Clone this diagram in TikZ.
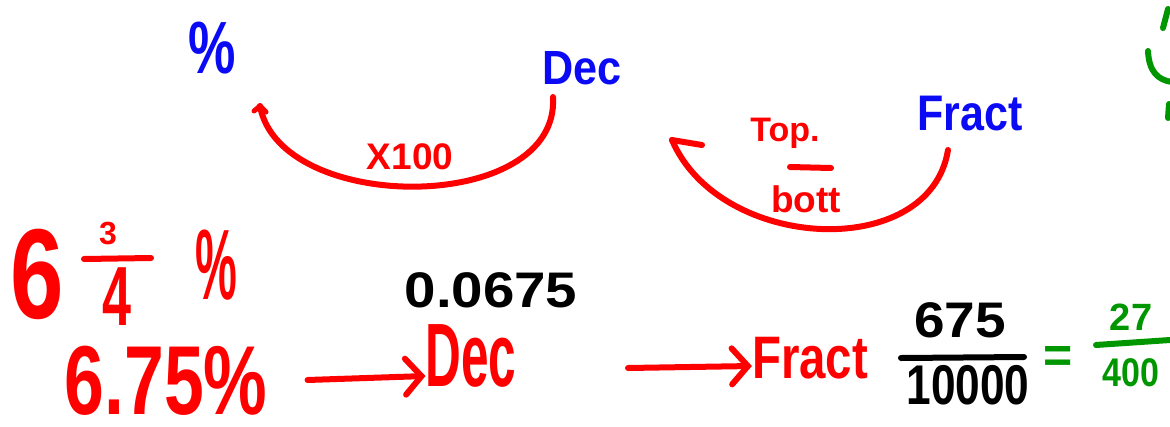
\documentclass[tikz,border=0pt]{standalone}
\usepackage{fontspec}
\setmainfont{Liberation Sans}
\usetikzlibrary{arrows.meta}
\definecolor{inkred}{RGB}{255,0,0}
\definecolor{inkblue}{RGB}{10,10,245}
\definecolor{inkgreen}{RGB}{0,150,0}
\newcommand\fsz[1]{\fontsize{#1}{#1}\selectfont\bfseries}
\tikzset{
  txt/.style={inner sep=0pt, anchor=center},
  stroke/.style={line width=6pt, line cap=round, line join=round},
  redarc/.style={stroke, draw=inkred},
  barbtip/.style={-{Straight Barb[length=16pt,width=36pt,line cap=round]}},
}
\begin{document}
\begin{tikzpicture}[x=1pt,y=-1pt]
\useasboundingbox (0,0) rectangle (1170,426);
% top row: blue labels
\node[txt,text=inkblue,xscale=0.72] (pct) at (212,48) {\fsz{74}\%};
\node[txt,text=inkblue,xscale=0.9] (decB) at (582,68) {\fsz{48}Dec};
\node[txt,text=inkblue,xscale=0.86] (fractB) at (970,114) {\fsz{50}Fract};
% arc 1 (Dec -> %)
\coordinate (a1s) at (553,97);
\coordinate (a1e) at (260,106);
\draw[redarc] (a1s) .. controls (560,215) and (280,215) .. (a1e);
\draw[redarc,line width=5pt] (a1e) -- (254,111);
\draw[redarc,line width=5pt] (a1e) -- (266,112);
\node[txt,text=inkred] (x100) at (410,157) {\fsz{37}X100};
% arc 2 (Fract -> Dec)
\coordinate (a2s) at (948,150);
\coordinate (a2e) at (672,140);
\draw[redarc] (a2s) .. controls (930,262) and (720,252) .. (a2e);
\draw[redarc] (a2e) -- (702,145);
\node[txt,text=inkred] (top) at (785,133) {\fsz{34}Top.};
\draw[stroke,draw=inkred] (790,167) -- (831,168);
\node[txt,text=inkred] (bott) at (806,199) {\fsz{37}bott};
% mixed number
\node[txt,text=inkred,xscale=0.75] (six) at (37,274) {\fsz{128}6};
\node[txt,text=inkred] (three) at (108,234) {\fsz{32}3};
\draw[stroke,draw=inkred] (84,259) -- (151,258);
\node[txt,text=inkred,xscale=0.62] (four) at (117,297) {\fsz{84}4};
\node[txt,text=inkred,xscale=0.47] (pct2) at (216,265) {\fsz{100}\%};
% bottom row
\node[txt,text=inkred,xscale=0.73] (dec675) at (166,381) {\fsz{98}6.75\%};
\node[txt,xscale=1.13] (zero) at (491,290) {\fsz{50}0.0675};
\node[txt,text=inkred,xscale=0.55] (decR) at (471,356) {\fsz{90}Dec};
\node[txt,text=inkred,xscale=0.79] (fractR) at (810,358) {\fsz{60}Fract};
\draw[stroke,draw=inkred,barbtip] (dec675.east |- 0,380) ++(40,0) coordinate (b1s) -- (decR.west |- 0,376);
\draw[stroke,draw=inkred,barbtip] (628,368) coordinate (b2s) -- (fractR.west |- 0,366);
% fraction
\node[txt,xscale=1.1] (num) at (960,320) {\fsz{50}675};
\draw[stroke] (901,358) -- (1024,357);
\node[txt,xscale=0.79] (den) at (968,385) {\fsz{56}10000};
\node[txt,text=inkgreen] (eq) at (1058,359) {\fsz{50}=};
\node[txt,text=inkgreen] (n27) at (1131,317) {\fsz{38}27};
\draw[stroke,draw=inkgreen] (1096,345) -- (1170,340);
\node[txt,text=inkgreen,xscale=0.85] (n400) at (1131,373) {\fsz{40}400};
% green partial marks at right edge
\draw[stroke,draw=inkgreen] (1168,9) -- (1163,28);
\draw[stroke,draw=inkgreen] (1148,51) .. controls (1149,72) and (1158,80) .. (1172,82);
\draw[stroke,draw=inkgreen] (1169,104) -- (1168,118);
\end{tikzpicture}
\end{document}
